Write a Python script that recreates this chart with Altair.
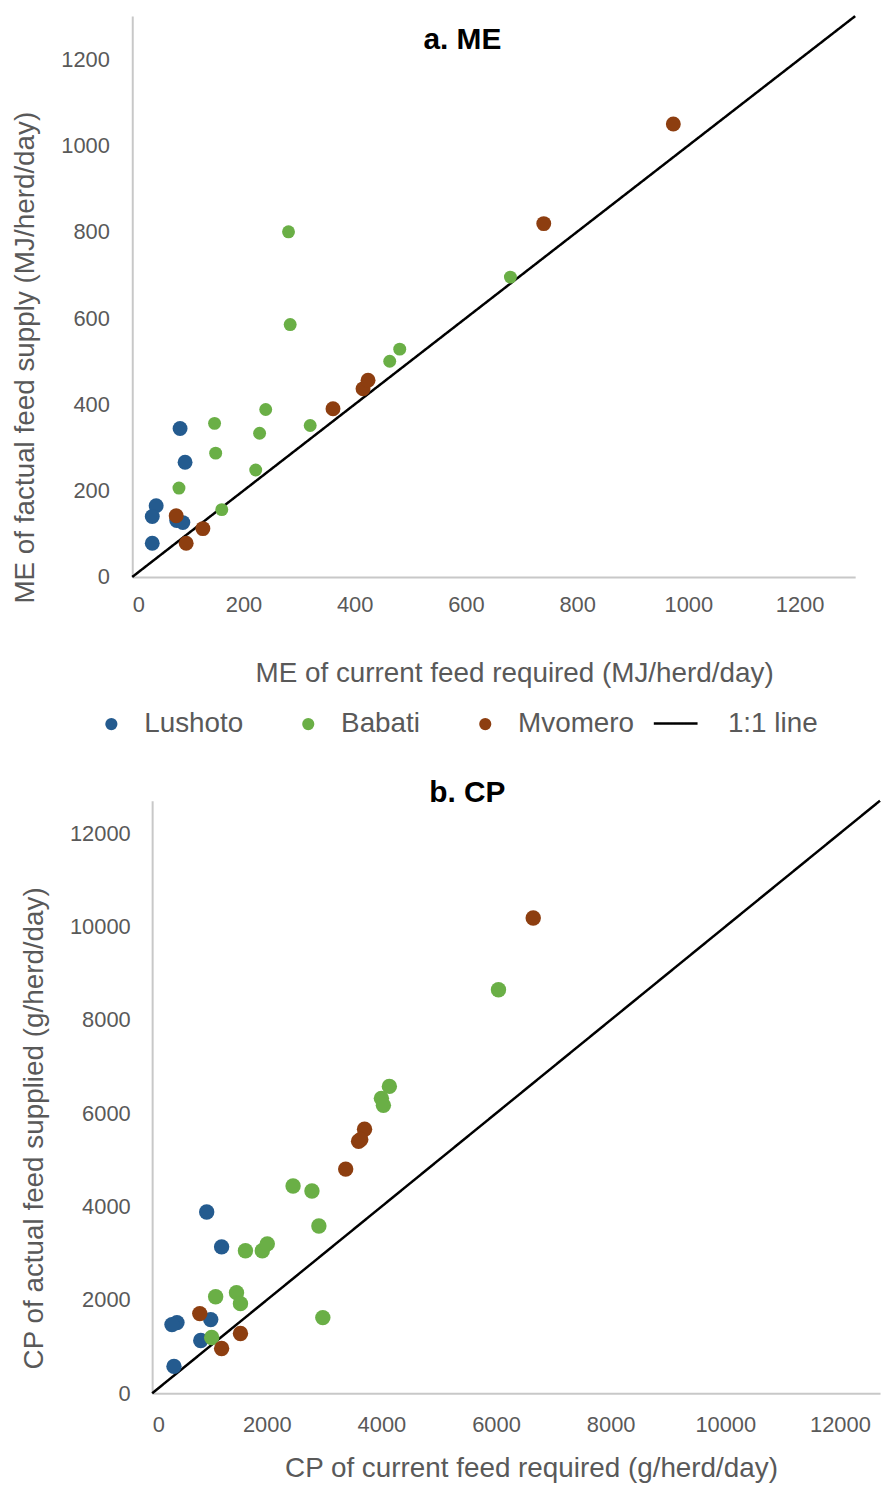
import altair as alt
import pandas as pd

FONT = "Liberation Sans"
GRAY = "#595959"

sites = ["Lushoto", "Babati", "Mvomero"]
site_colors = ["#245B8F", "#6AAF46", "#8D3E10"]

# ---- Panel a: ME (MJ/herd/day) ----
me_lushoto_req = [86, 95, 43, 36, 80, 91, 36]
me_lushoto_sup = [344, 266, 165, 140, 131, 126, 78]
me_babati_req = [240, 148, 229, 320, 150, 222, 84, 161, 281, 284, 680, 481, 463]
me_babati_sup = [388, 356, 333, 351, 287, 248, 206, 156, 800, 585, 695, 528, 500]
me_mvomero_req = [79, 127, 97, 361, 415, 424, 740, 973]
me_mvomero_sup = [142, 112, 78, 390, 436, 456, 819, 1050]
me_line = [0, 1300]
me_ticks = [0, 200, 400, 600, 800, 1000, 1200]

# ---- Panel b: CP (g/herd/day) ----
cp_lushoto_req = [952, 1212, 433, 346, 1022, 848, 381]
cp_lushoto_sup = [3886, 3139, 1516, 1473, 1580, 1132, 577]
cp_babati_req = [2459, 2788, 2909, 1628, 1922, 2009, 1108, 1472, 1541, 2978, 1039, 4139, 4000, 4035, 6043]
cp_babati_sup = [4442, 4335, 3587, 3054, 3054, 3203, 2071, 2157, 1922, 1623, 1196, 6577, 6321, 6171, 8648]
cp_mvomero_req = [831, 1541, 1212, 3706, 3602, 3640, 3377, 6649]
cp_mvomero_sup = [1708, 1281, 961, 5659, 5402, 5440, 4805, 10186]
cp_line = [0, 12700]
cp_ticks = [0, 2000, 4000, 6000, 8000, 10000, 12000]

line_label = "1:1 line"


def make_df(reqs, sups):
    rows = []
    for s, r, p in zip(sites, reqs, sups):
        for a, b in zip(r, p):
            rows.append({"site": s, "req": a, "sup": b})
    return pd.DataFrame(rows)


df_a = make_df([me_lushoto_req, me_babati_req, me_mvomero_req],
               [me_lushoto_sup, me_babati_sup, me_mvomero_sup])
df_b = make_df([cp_lushoto_req, cp_babati_req, cp_mvomero_req],
               [cp_lushoto_sup, cp_babati_sup, cp_mvomero_sup])
line_a = pd.DataFrame({"v": me_line, "lab": [line_label] * len(me_line)})
line_b = pd.DataFrame({"v": cp_line, "lab": [line_label] * len(cp_line)})

axis_common = dict(
    domainColor="#C8C8C8", domainWidth=2, ticks=False, tickSize=0, grid=False,
    format="d",
    labelColor=GRAY, labelFont=FONT, labelFontSize=22,
    titleColor=GRAY, titleFont=FONT, titleFontSize=28, titleFontWeight="normal",
    titleBaseline="middle", titleAlign="center",
)


def panel(df, ldf, top, ticks, xtitle, ytitle, title, x_range, yoffset,
          xlab_pad, ylab_pad, xtx, xty, ytx, yty, title_x, title_y,
          babati_size, other_size, show_legend, W, H):
    xscale = alt.Scale(domain=[0, top], nice=False, zero=True, range=x_range)
    yscale = alt.Scale(domain=[0, top], nice=False, zero=True)
    xaxis = alt.Axis(values=ticks, title=xtitle, labelPadding=xlab_pad,
                     titleX=xtx, titleY=xty, **axis_common)
    yaxis = alt.Axis(values=ticks, title=ytitle, labelPadding=ylab_pad,
                     titleX=ytx, titleY=yty, offset=yoffset, **axis_common)
    if show_legend:
        cleg = alt.Legend(orient="none", legendX=-35, legendY=698, direction="horizontal",
                          title=None, symbolType="circle", symbolSize=150,
                          symbolStrokeWidth=0, symbolOpacity=1,
                          labelFont=FONT, labelFontSize=28, labelColor=GRAY,
                          labelOffset=19, columnPadding=51)
        dleg = alt.Legend(orient="none", legendX=523, legendY=688, title=None,
                          symbolType="stroke", symbolSize=1936,
                          symbolStrokeColor="black", symbolStrokeWidth=2.5,
                          labelFont=FONT, labelFontSize=28, labelColor=GRAY,
                          labelOffset=29)
    else:
        cleg = None
        dleg = None
    pts = alt.Chart(df).mark_circle(opacity=1).encode(
        x=alt.X("req:Q", scale=xscale, axis=xaxis),
        y=alt.Y("sup:Q", scale=yscale, axis=yaxis),
        color=alt.Color("site:N", scale=alt.Scale(domain=sites, range=site_colors), legend=cleg),
        size=alt.condition(alt.datum.site == "Babati", alt.value(babati_size), alt.value(other_size)),
    )
    ln = alt.Chart(ldf).mark_line(color="black", strokeWidth=2.5).encode(
        x=alt.X("v:Q", scale=xscale, axis=xaxis),
        y=alt.Y("v:Q", scale=yscale, axis=yaxis),
        strokeDash=alt.StrokeDash("lab:N", scale=alt.Scale(domain=[line_label], range=[[1, 0]]), legend=dleg),
    )
    ttl = alt.Chart(pd.DataFrame({"t": [title]})).mark_text(
        font=FONT, fontSize=30, fontWeight="bold", color="black",
        align="center", baseline="middle",
    ).encode(text="t:N", x=alt.value(title_x), y=alt.value(title_y))
    return alt.layer(ln, pts, ttl).properties(width=W, height=H)


chart_a = panel(df_a, line_a, 1300, me_ticks,
                "ME of current feed required (MJ/herd/day)",
                "ME of factual feed supply (MJ/herd/day)",
                "a. ME", [0, 727], 0, 18, 23, 384, 97, -107, 343, 332, 24,
                169, 225, True, 727, 564)

chart_b = panel(df_b, line_b, 12700, cp_ticks,
                "CP of current feed required (g/herd/day)",
                "CP of actual feed supplied (g/herd/day)",
                "b. CP", [20, 752], -20, 21, 22, 401, 76, -118, 329, 337, -8,
                240, 240, False, 752, 596)

chart = alt.vconcat(chart_a, chart_b, spacing=40).properties(
    padding={"left": 12, "top": 7, "right": 0, "bottom": 0}
).configure_view(stroke=None).resolve_scale(color="independent", strokeDash="independent")

chart.save("out.html", embed_options={"renderer": "svg", "actions": False})
